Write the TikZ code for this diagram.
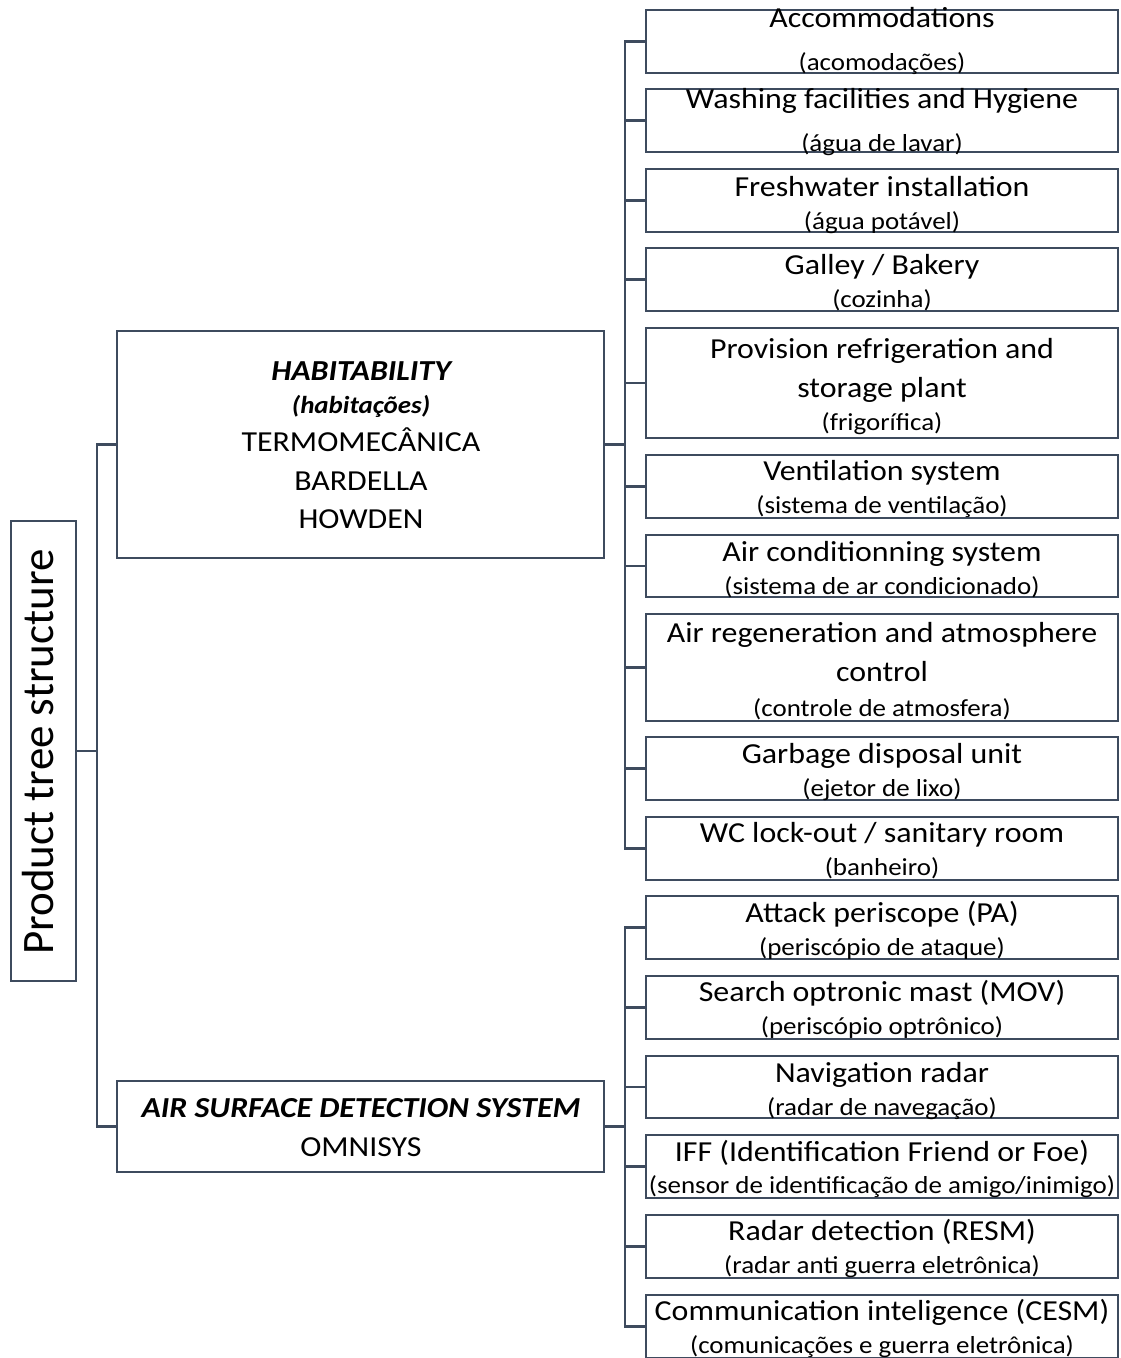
\documentclass[tikz,border=0pt]{standalone}
\usepackage{fontspec}
\setmainfont[FakeStretch=1.1]{Carlito}
\newfontfamily\rootfont{Carlito}
\begin{document}
\begin{tikzpicture}[x=1pt,y=-1pt,
  box/.style={draw=edge, line width=2.2pt, rectangle, inner sep=0pt, fill=white},
  wire/.style={draw=edge, line width=2.2pt},
  ttl/.style={anchor=base, font=\fontsize{29}{34}\selectfont, inner sep=0pt},
  sub/.style={anchor=base, font=\fontsize{24.5}{29}\selectfont, inner sep=0pt},
  bit/.style={anchor=base, font=\fontsize{29}{34}\selectfont\bfseries\itshape, inner sep=0pt}]
\definecolor{edge}{HTML}{3E4B5E}
\useasboundingbox (0,0) rectangle (1121,1358);
% root
\node[box, minimum width=65pt, minimum height=460pt] (root) at (43.5,751) {};
\node[anchor=base, rotate=90, font=\rootfont\fontsize{45}{54}\selectfont, inner sep=0pt] (rootT) at (53,752) {Product tree structure};
% level 1
\node[box, minimum width=487pt, minimum height=227pt] (hab) at (360.5,444.5) {};
\node[bit] (habT) at (361,380) {HABITABILITY};
\node[anchor=base, font=\fontsize{24.5}{29}\selectfont\bfseries\itshape, inner sep=0pt] (habS) at (361,413) {(habitações)};
\node[ttl] (habA) at (361,451) {TERMOMECÂNICA};
\node[ttl] (habB) at (361,490) {BARDELLA};
\node[ttl] (habC) at (361,528) {HOWDEN};
\node[box, minimum width=487pt, minimum height=91pt] (asds) at (360.5,1126.5) {};
\node[bit] (asdsT) at (361,1117) {AIR SURFACE DETECTION SYSTEM};
\node[ttl] (asdsA) at (361,1156) {OMNISYS};
% children
\foreach \n/\a/\b in {c1/10/73, c2/89/152, c3/169/232, c4/248/311, c5/328/438, c6/455/518, c7/535/597, c8/614/721, c9/737/800, c10/817/880,
  d1/896/959, d2/976/1039, d3/1056/1118, d4/1135/1198, d5/1215/1278, d6/1295/1358}
  {\pgfmathsetmacro\hh{\b-\a}
   \pgfmathsetmacro\yy{(\a+\b)/2}
   \node[box, minimum width=472pt, minimum height=\hh pt] (\n) at (882,\yy) {};}
% texts
\node[ttl] at (882,27) {Accommodations};
\node[sub] at (882,70) {(acomodações)};
\node[ttl] at (882,108) {Washing facilities and Hygiene};
\node[sub] at (882,151) {(água de lavar)};
\node[ttl] at (882,196) {Freshwater installation};
\node[sub] at (882,229) {(água potável)};
\node[ttl] at (882,274) {Galley / Bakery};
\node[sub] at (882,307) {(cozinha)};
\node[ttl] at (882,358) {Provision refrigeration and};
\node[ttl] at (882,397) {storage plant};
\node[sub] at (882,430) {(frigorífica)};
\node[ttl] at (882,480) {Ventilation system};
\node[sub] at (882,513) {(sistema de ventilação)};
\node[ttl] at (882,561) {Air conditionning system};
\node[sub] at (882,594) {(sistema de ar condicionado)};
\node[ttl] at (882,642) {Air regeneration and atmosphere};
\node[ttl] at (882,681) {control};
\node[sub] at (882,716) {(controle de atmosfera)};
\node[ttl] at (882,763) {Garbage disposal unit};
\node[sub] at (882,796) {(ejetor de lixo)};
\node[ttl] at (882,842) {WC lock-out / sanitary room};
\node[sub] at (882,875) {(banheiro)};
\node[ttl] at (882,922) {Attack periscope (PA)};
\node[sub] at (882,955) {(periscópio de ataque)};
\node[ttl] at (882,1001) {Search optronic mast (MOV)};
\node[sub] at (882,1034) {(periscópio optrônico)};
\node[ttl] at (882,1082) {Navigation radar};
\node[sub] at (882,1115) {(radar de navegação)};
\node[ttl] at (882,1161) {IFF (Identification Friend or Foe)};
\node[sub] at (882,1193) {(sensor de identificação de amigo/inimigo)};
\node[ttl] at (882,1240) {Radar detection (RESM)};
\node[sub] at (882,1273) {(radar anti guerra eletrônica)};
\node[ttl] at (882,1320) {Communication inteligence (CESM)};
\node[sub] at (882,1353) {(comunicações e guerra eletrônica)};
% connectors
\coordinate (t0) at (97,751);
\draw[wire] (root.east) -- (t0);
\draw[wire] (t0) |- (hab.west);
\draw[wire] (t0) |- (asds.west);
\coordinate (h0) at (625,444.5);
\draw[wire] (hab.east) -- (h0);
\foreach \n in {c1,c2,c3,c4,c5,c6,c7,c8,c9,c10}
  \draw[wire] (h0) |- (\n.west);
\coordinate (a0) at (625,1126.5);
\draw[wire] (asds.east) -- (a0);
\foreach \n in {d1,d2,d3,d4,d5,d6}
  \draw[wire] (a0) |- (\n.west);
\end{tikzpicture}
\end{document}
